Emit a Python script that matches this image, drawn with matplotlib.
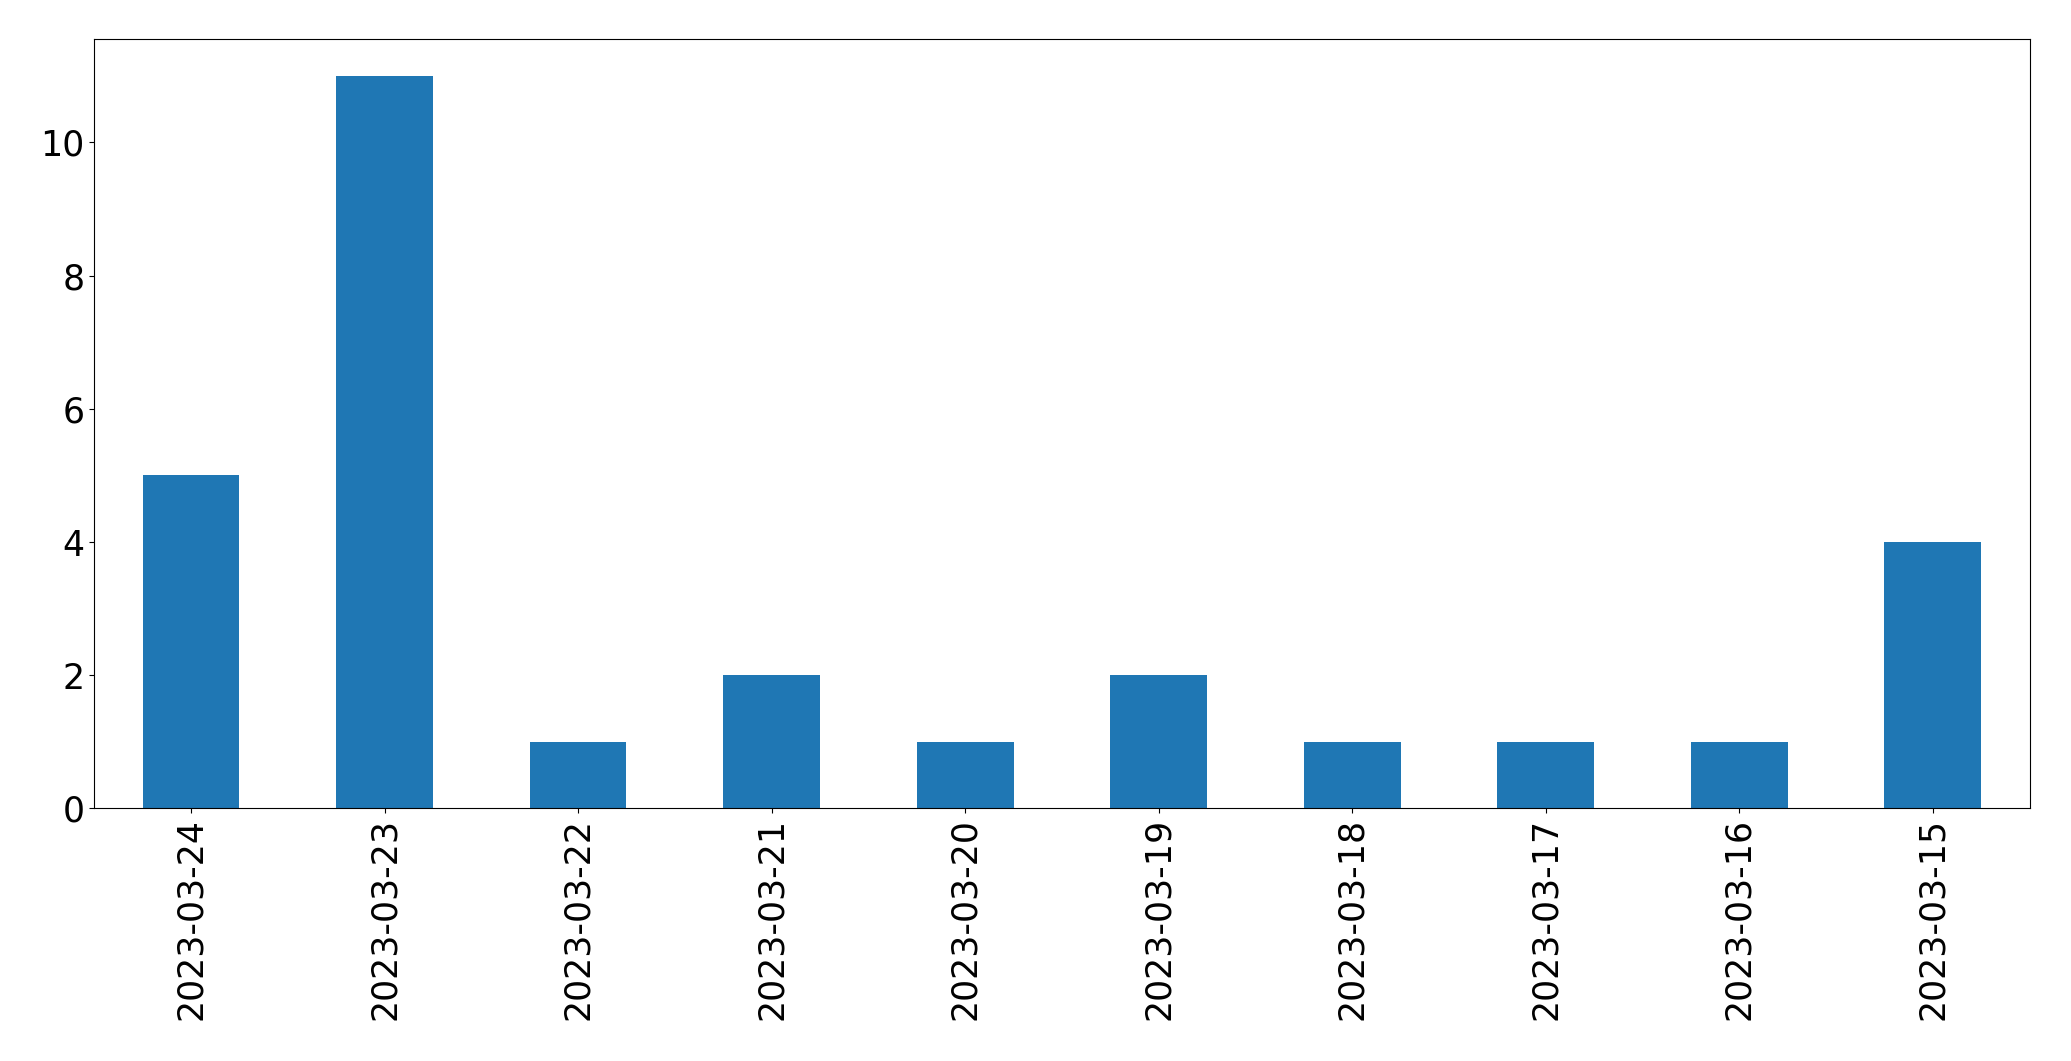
import matplotlib
matplotlib.use('Agg')
import matplotlib.pyplot as plt

dates = ['2023-03-24', '2023-03-23', '2023-03-22', '2023-03-21', '2023-03-20',
         '2023-03-19', '2023-03-18', '2023-03-17', '2023-03-16', '2023-03-15']
counts = [5, 11, 1, 2, 1, 2, 1, 1, 1, 4]

fig, ax = plt.subplots(figsize=(20.71, 10.61), dpi=100)
x = range(len(dates))
ax.bar(x, counts, width=0.5, color='#1f77b4')
ax.set_xticks(list(x))
ax.set_xticklabels(dates, rotation=90)
ax.set_xlim(-0.5, len(dates) - 0.5)
ax.set_ylim(0, 11.55)
ax.tick_params(labelsize=25)
fig.subplots_adjust(left=0.0455, right=0.98, top=0.963, bottom=0.238)
fig.savefig('out.png', dpi=100)
